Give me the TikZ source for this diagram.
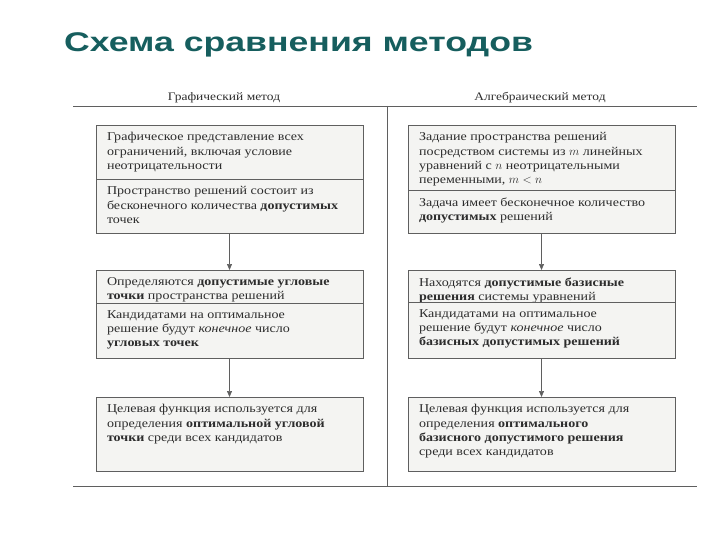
\documentclass[tikz,border=0pt]{standalone}
\usepackage{fontspec}
\setmainfont[FakeStretch=1.17]{Liberation Serif}
\newfontfamily\titlefont[FakeStretch=1.32]{Liberation Sans}
\usetikzlibrary{positioning,arrows.meta}
\definecolor{titleteal}{RGB}{22,94,94}
\definecolor{scangray}{RGB}{45,45,45}
\definecolor{framegray}{RGB}{95,95,95}
\definecolor{cellfill}{RGB}{244,244,242}

% one cell of a column: fixed height, text set from the top
\newcommand{\cellbox}[2]{\parbox[t][#1][t]{245pt}{\raggedright\vspace*{7.5pt}#2}}

\tikzset{
  stepcell/.style={draw=framegray, fill=cellfill, line width=0.8pt, inner xsep=11pt,
    inner ysep=0pt, outer sep=0pt, text=scangray,
    font=\fontsize{12}{14.3}\selectfont},
  flowarrow/.style={draw=framegray, line width=0.7pt, -{Triangle[length=6pt,width=5pt]}},
  colhead/.style={text=scangray, font=\fontsize{11.5}{12}\selectfont, anchor=base}
}

\begin{document}
\begin{tikzpicture}[x=1pt, y=-1pt]
    \useasboundingbox (0,0) rectangle (720,540);

    % Title
    \node[anchor=base west, inner sep=0pt, text=titleteal,
      font=\titlefont\bfseries\fontsize{27}{30}\selectfont] (title) at (64,52) {Схема сравнения методов};

    % Frame of the table
    \draw[framegray, line width=0.8pt] (73,106) -- (697,106);
    \draw[framegray, line width=0.8pt] (73,486) -- (697,486);
    \draw[framegray, line width=0.8pt] (387,106) -- (387,486);
    \node[colhead] (headG) at (224,101) {Графический метод};
    \node[colhead] (headA) at (540,101) {Алгебраический метод};

    % Graphical method
    \node[stepcell, anchor=north west] (gA1) at (96,125)
      {\cellbox{54pt}{Графическое представление всех\\ ограничений, включая условие\\ неотрицательности}};
    \node[stepcell, below=0pt of gA1] (gA2)
      {\cellbox{54pt}{Пространство решений состоит из\\ бесконечного количества \textbf{допустимых}\\ точек}};
    \node[stepcell, below=37pt of gA2] (gB1)
      {\cellbox{33pt}{Определяются \textbf{допустимые угловые}\\ \textbf{точки} пространства решений}};
    \node[stepcell, below=0pt of gB1] (gB2)
      {\cellbox{55pt}{Кандидатами на оптимальное\\ решение будут \textit{конечное} число\\ \textbf{угловых точек}}};
    \node[stepcell, below=39pt of gB2] (gC)
      {\cellbox{74pt}{Целевая функция используется для\\ определения \textbf{оптимальной угловой}\\ \textbf{точки} среди всех кандидатов}};

    % Algebraic method
    \node[stepcell, anchor=north west] (aA1) at (408,125)
      {\cellbox{65pt}{Задание пространства решений\\ посредством системы из $m$ линейных\\ уравнений с $n$ неотрицательными\\ переменными, $m<n$}};
    \node[stepcell, below=0pt of aA1] (aA2)
      {\cellbox{43pt}{Задача имеет бесконечное количество\\ \textbf{допустимых} решений}};
    \node[stepcell, below=37pt of aA2] (aB1)
      {\cellbox{32pt}{Находятся \textbf{допустимые базисные}\\ \textbf{решения} системы уравнений}};
    \node[stepcell, below=0pt of aB1] (aB2)
      {\cellbox{56pt}{Кандидатами на оптимальное\\ решение будут \textit{конечное} число\\ \textbf{базисных допустимых решений}}};
    \node[stepcell, below=39pt of aB2] (aC)
      {\cellbox{74pt}{Целевая функция используется для\\ определения \textbf{оптимального}\\ \textbf{базисного допустимого решения}\\ среди всех кандидатов}};

    % Arrows
    \draw[flowarrow] (gA2.south) -- (gB1.north);
    \draw[flowarrow] (gB2.south) -- (gC.north);
    \draw[flowarrow] (aA2.south) -- (aB1.north);
    \draw[flowarrow] (aB2.south) -- (aC.north);
\end{tikzpicture}
\end{document}
